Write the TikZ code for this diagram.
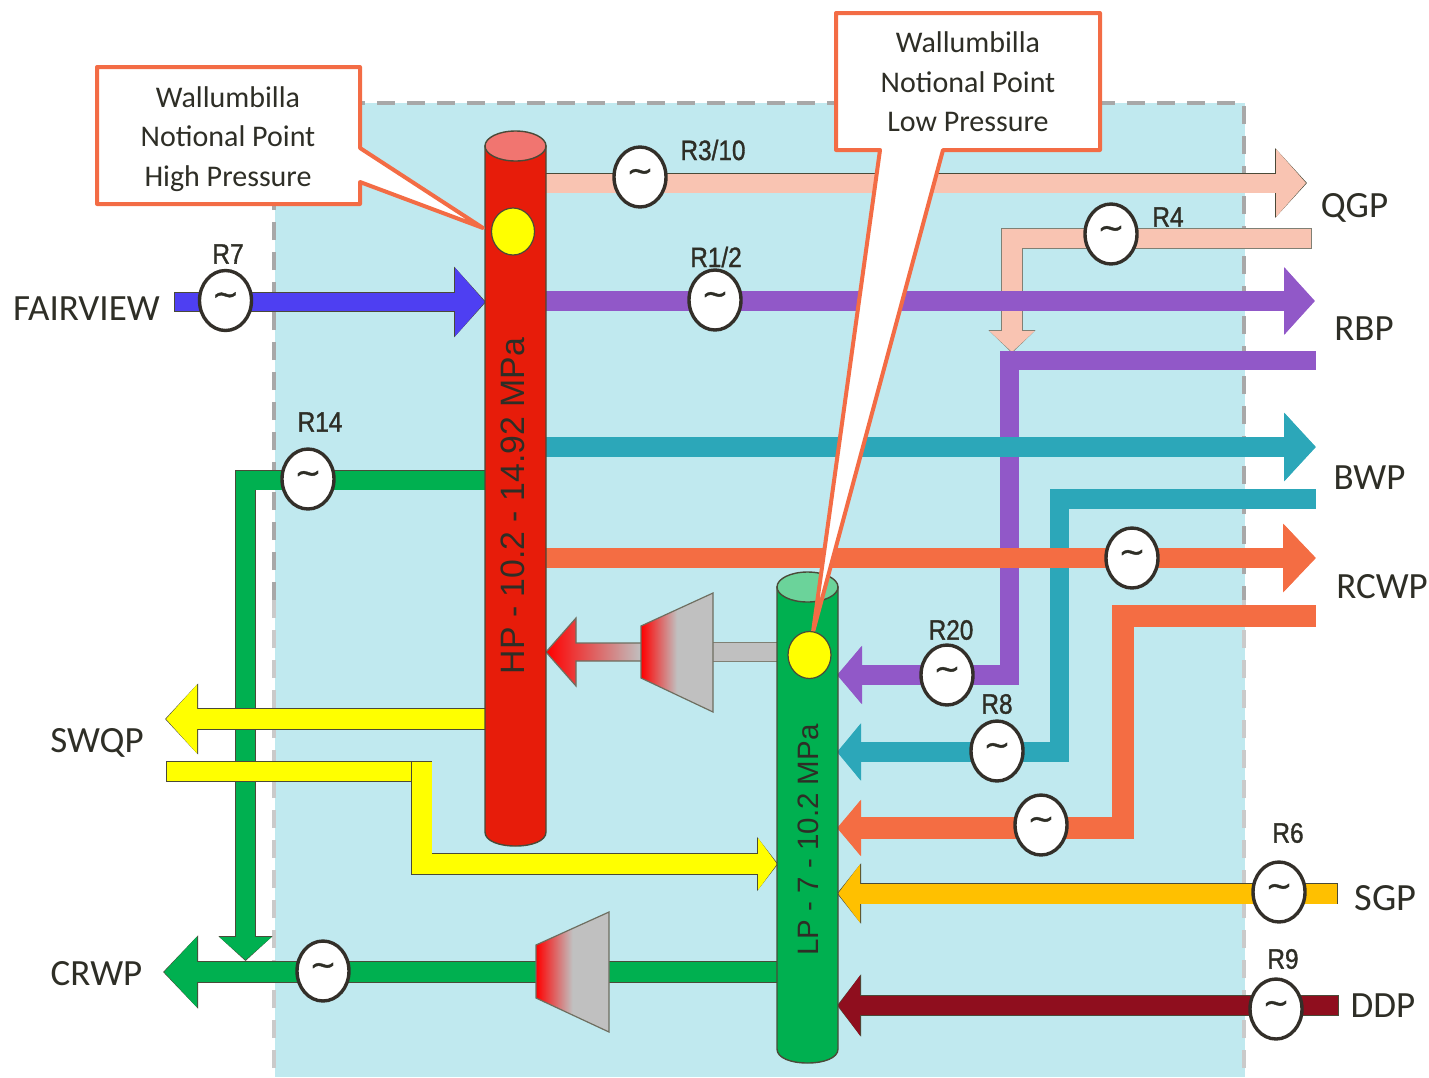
\documentclass[tikz,border=0pt]{standalone}
\usepackage{fontspec}
\setmainfont{Carlito}
\newfontfamily\rfont[FakeStretch=0.87,FakeBold=1.2]{Liberation Sans}
\newfontfamily\arialfont{Liberation Sans}
\newfontfamily\tildefont[FakeBold=1.2]{DejaVu Sans}
\usetikzlibrary{arrows.meta,shapes.geometric,calc}
\definecolor{bgblue}{HTML}{C0E9EF}
\definecolor{dashgrey}{HTML}{A8A8A8}
\definecolor{dashpale}{HTML}{CACACA}
\definecolor{callout}{HTML}{F36C45}
\definecolor{edgedark}{HTML}{4A4A38}
\definecolor{inkdark}{HTML}{2E2E26}
\definecolor{peach}{HTML}{F9C4B2}
\definecolor{flowblue}{HTML}{4E3FF2}
\definecolor{flowpurple}{HTML}{9158C8}
\definecolor{flowteal}{HTML}{2CA7B9}
\definecolor{floworange}{HTML}{F46D43}
\definecolor{flowgreen}{HTML}{00B050}
\definecolor{flowyellow}{HTML}{FFFF00}
\definecolor{flowamber}{HTML}{FFC000}
\definecolor{flowmaroon}{HTML}{8F0E1E}
\definecolor{turbgrey}{HTML}{C0C0C0}
\definecolor{hpred}{HTML}{E71C0A}
\definecolor{hptop}{HTML}{F17570}
\definecolor{lptop}{HTML}{6BD39A}
\newcommand{\arrowpipe}[6]{%
  \pgfmathsetmacro\wo{#3+1.6}\pgfmathsetmacro\Lo{#4+2}\pgfmathsetmacro\Wo{#5+2}%
  \draw[#2,line width=\wo pt,shorten >=-1pt,shorten <=-0.8pt,-{Triangle[length=\Lo pt 0 0,width=\Wo pt 0 0]}] #6;
  \draw[#1,line width=#3pt,-{Triangle[length=#4pt 0 0,width=#5pt 0 0]}] #6;}
\newcommand{\plainpipe}[4]{%
  \pgfmathsetmacro\wo{#3+1.6}%
  \draw[#2,line width=\wo pt,shorten >=-0.8pt,shorten <=-0.8pt] #4;
  \draw[#1,line width=#3pt] #4;}
\tikzset{
  x=1pt,y=-1pt,
  meter/.style={ellipse,draw=black!85!olive,line width=3.4pt,fill=white,minimum width=52pt,minimum height=60pt,inner sep=0pt,
    font=\tildefont\fontsize{32}{32}\selectfont,text=inkdark},
  rlabel/.style={font=\rfont\fontsize{28}{28}\selectfont,text=inkdark,inner sep=0pt},
  portlabel/.style={font=\fontsize{37}{37}\selectfont,text=inkdark,inner sep=0pt},
  tankbody/.style={draw=edgedark,line width=1.4pt},
  tanktop/.style={ellipse,draw=edgedark,line width=1.4pt,minimum width=61pt,minimum height=30pt,inner sep=0pt},
  tanktext/.style={rotate=90,text=inkdark,inner sep=0pt},
  spot/.style={ellipse,draw=edgedark,line width=1.2pt,fill=flowyellow,minimum width=43pt,minimum height=47pt,inner sep=0pt},
  calloutline/.style={draw=callout,line width=4pt,fill=white,line join=round},
  callouttext/.style={align=center,font=\fontsize{30}{39.5}\selectfont,text=inkdark,inner sep=0pt},
}
\pgfdeclarehorizontalshading{turbshade}{100bp}{color(0bp)=(red);color(25bp)=(red);color(50bp)=(turbgrey);color(100bp)=(turbgrey)}
\begin{document}
\begin{tikzpicture}
\useasboundingbox (0,0) rectangle (1429,1077);
% region
\fill[bgblue] (275,103) rectangle (1245,1077);
\draw[dashgrey,line width=3.5pt,dash pattern=on 18pt off 12pt] (274,600) -- (274,103) -- (1244,103) -- (1244,600);
\draw[dashpale,line width=3.5pt,dash pattern=on 18pt off 12pt] (274,600) -- (274,1077);
\draw[dashpale,line width=3.5pt,dash pattern=on 18pt off 12pt] (1244,600) -- (1244,1077);

% named ends
\coordinate (qgpS) at (546,183);   \coordinate (qgpT) at (1306,183);
\coordinate (r4S) at (1311,238.5); \coordinate (r4C) at (1012,238.5); \coordinate (r4T) at (1012,352);
\coordinate (rbpS) at (546,301);   \coordinate (rbpT) at (1314,301);
\coordinate (rbp2S) at (1315,360.5); \coordinate (rbp2C) at (1009.5,360.5); \coordinate (rbp2D) at (1009.5,675); \coordinate (rbp2M) at (980,675); \coordinate (rbp2T) at (838,675);
\coordinate (bwpS) at (546,447);   \coordinate (bwpT) at (1315,447);
\coordinate (bwp2S) at (1315,499); \coordinate (bwp2C) at (1059.5,499); \coordinate (bwp2D) at (1059.5,752); \coordinate (bwp2M) at (1000,752); \coordinate (bwp2T) at (838,752);
\coordinate (rcwpS) at (546,558);  \coordinate (rcwpT) at (1315,558);
\coordinate (rcwp2S) at (1315,616); \coordinate (rcwp2C) at (1123,616); \coordinate (rcwp2D) at (1123,828); \coordinate (rcwp2T) at (838,828);
\coordinate (sgpS) at (1337,893.5); \coordinate (sgpT) at (838,893.5);
\coordinate (ddpS) at (1338,1005.5); \coordinate (ddpT) at (838,1005.5);
\coordinate (fvS) at (175,302);    \coordinate (fvT) at (485,302);
\coordinate (g14S) at (485,480);   \coordinate (g14C) at (245.5,480); \coordinate (g14T) at (245.5,960);
\coordinate (crS) at (777,972);    \coordinate (crT) at (164,972);
\coordinate (swS) at (485,719);    \coordinate (swT) at (166,719);
\coordinate (sw2S) at (167,771.5); \coordinate (sw2E) at (412,771.5);
\coordinate (sw3S) at (421.5,762); \coordinate (sw3C) at (421.5,864); \coordinate (sw3T) at (777,864);
\coordinate (gyS) at (713,652);    \coordinate (gyE) at (777,652);

% flows
\arrowpipe{flowgreen}{edgedark}{19}{23}{51}{(g14S) -- (g14C) -- (g14T)}
\arrowpipe{flowgreen}{edgedark}{20}{33}{69}{(crS) -- (crT)}
\arrowpipe{peach}{edgedark}{19}{30}{66}{(qgpS) -- (qgpT)}
\arrowpipe{peach}{edgedark!70}{19.5}{21}{44}{(r4S) -- (r4C) -- (r4T)}
\arrowpipe{flowblue}{edgedark}{18}{30}{67}{(fvS) -- (fvT)}
\plainpipe{flowpurple}{flowpurple}{17.5}{(rbp2S) -- (rbp2C) -- (rbp2D) -- (rbp2M)}
\arrowpipe{flowpurple}{flowpurple}{18}{23}{55}{(rbp2M) -- (rbp2T)}
\arrowpipe{flowpurple}{flowpurple}{18}{29}{64}{(rbpS) -- (rbpT)}
\plainpipe{flowteal}{flowteal}{18}{(bwp2S) -- (bwp2C) -- (bwp2D) -- (bwp2M)}
\arrowpipe{flowteal}{flowteal}{19}{22}{54}{(bwp2M) -- (bwp2T)}
\arrowpipe{flowteal}{flowteal}{18}{30}{65}{(bwpS) -- (bwpT)}
\arrowpipe{floworange}{floworange}{18}{31}{65}{(rcwpS) -- (rcwpT)}
\arrowpipe{floworange}{floworange}{20.5}{22}{53}{(rcwp2S) -- (rcwp2C) -- (rcwp2D) -- (rcwp2T)}
\arrowpipe{flowamber}{edgedark}{20}{22}{57}{(sgpS) -- (sgpT)}
\arrowpipe{flowmaroon}{edgedark}{19}{22}{59}{(ddpS) -- (ddpT)}
\arrowpipe{flowyellow}{edgedark}{20}{31}{67}{(swS) -- (swT)}
\plainpipe{flowyellow}{edgedark}{19}{(sw2S) -- (sw2E)}
\arrowpipe{flowyellow}{edgedark}{20}{19}{51}{(sw3S) -- (sw3C) -- (sw3T)}
\plainpipe{turbgrey}{edgedark!70}{18}{(gyS) -- (gyE)}

% compressor arrow to HP (shaded)
\shade[left color=red,right color=turbgrey] (546,652) -- (576,618) -- (576,643) -- (641,643) -- (641,661) -- (576,661) -- (576,686) -- cycle;
\draw[edgedark!80,line width=1.2pt,line join=miter] (641,643) -- (576,643) -- (576,618) -- (546,652) -- (576,686) -- (576,661) -- (641,661);

% tanks
\path[tankbody,fill=hpred] (485,146) -- (485,832) .. controls (485,841) and (499,846) .. (515.5,846) .. controls (532,846) and (546,841) .. (546,832) -- (546,146) -- cycle;
\node[tanktop,fill=hptop] (hp) at (515.5,146) {};
\path[tankbody,fill=flowgreen] (777,587) -- (777,1049) .. controls (777,1058) and (791,1063) .. (807.5,1063) .. controls (824,1063) and (838,1058) .. (838,1049) -- (838,587) -- cycle;
\node[tanktop,fill=lptop] (lp) at (807.5,587) {};
\node[tanktext,font=\arialfont\fontsize{33.8}{33.8}\selectfont] (hptext) at (513,506) {HP - 10.2 - 14.92 MPa};
\node[tanktext,font=\arialfont\fontsize{29.5}{29.5}\selectfont] (lptext) at (808,840) {LP - 7 - 10.2 MPa};

% compressors
\path[shading=turbshade,draw=edgedark!80,line width=1.2pt] (641,626) -- (713,593) -- (713,712) -- (641,678) -- cycle;
\path[shading=turbshade,draw=edgedark!80,line width=1.2pt] (536,945) -- (609,912) -- (609,1032) -- (536,998) -- cycle;

% meters
\newcommand{\tildemark}{\raisebox{-4.5pt}[0pt][0pt]{\char"223C}}
\node[meter] (mR7) at (225.5,300.5) {\tildemark};
\node[meter] (mR310) at (640,177) {\tildemark};
\node[meter] (mR12) at (715,300) {\tildemark};
\node[meter] (mR4) at (1111,234) {\tildemark};
\node[meter] (mR14) at (308,479) {\tildemark};
\node[meter] (mR20) at (947,675) {\tildemark};
\node[meter] (mR8) at (997,751) {\tildemark};
\node[meter] (mRx) at (1041,825) {\tildemark};
\node[meter] (mRy) at (1132,558) {\tildemark};
\node[meter] (mR6) at (1279,892) {\tildemark};
\node[meter] (mR9) at (1276,1009) {\tildemark};
\node[meter] (mCr) at (323,971) {\tildemark};

% callouts
\draw[calloutline] (97,67) -- (360,67) -- (360,148) -- (483,228) -- (360,182) -- (360,204) -- (97,204) -- cycle;
\draw[calloutline] (836,13) -- (1100,13) -- (1100,150) -- (943,150) -- (813,632) -- (880,150) -- (836,150) -- cycle;
\node[callouttext] (hpcall) at (228,139) {Wallumbilla\\Notional Point\\High Pressure};
\node[callouttext] (lpcall) at (968,82) {Wallumbilla\\Notional Point\\Low Pressure};

% sensing points
\node[spot] (hpspot) at (513,231.5) {};
\node[spot] (lpspot) at (809.5,655) {};

% R labels
\node[rlabel] (lR7) at (228,254) {R7};
\node[rlabel] (lR310) at (713,150) {R3/10};
\node[rlabel] (lR4) at (1168,217) {R4};
\node[rlabel] (lR12) at (716,257) {R1/2};
\node[rlabel] (lR14) at (320,422) {R14};
\node[rlabel] (lR20) at (951,630) {R20};
\node[rlabel] (lR8) at (997,704) {R8};
\node[rlabel] (lR6) at (1288,833) {R6};
\node[rlabel] (lR9) at (1283,959) {R9};

% ports
\node[portlabel] (pQGP) at (1354.5,208) {QGP};
\node[portlabel] (pRBP) at (1364,329) {RBP};
\node[portlabel] (pBWP) at (1369.5,478) {BWP};
\node[portlabel] (pRCWP) at (1382,587) {RCWP};
\node[portlabel,font=\fontsize{38.5}{38.5}\selectfont] (pSGP) at (1385.5,898) {SGP};
\node[portlabel] (pDDP) at (1383,1006) {DDP};
\node[portlabel] (pFV) at (86.5,309) {FAIRVIEW};
\node[portlabel] (pSW) at (97,743) {SWQP};
\node[portlabel] (pCR) at (96.5,974) {CRWP};
\end{tikzpicture}
\end{document}
